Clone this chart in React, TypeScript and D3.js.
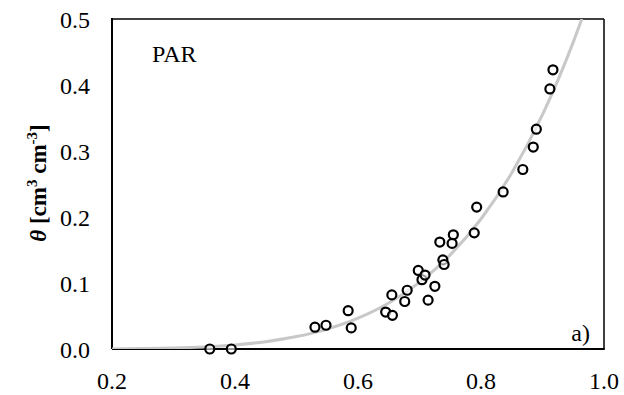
import React from 'react';
import * as d3 from 'd3';

// measured points: effective saturation vs water content
const satObs = [0.359, 0.394, 0.530, 0.548, 0.584, 0.589, 0.645, 0.656, 0.655, 0.676, 0.680, 0.698, 0.704, 0.709, 0.714, 0.725, 0.738, 0.740, 0.733, 0.755, 0.753, 0.789, 0.793, 0.836, 0.868, 0.885, 0.890, 0.912, 0.917];
const thetaObs = [0.000, 0.000, 0.033, 0.036, 0.058, 0.032, 0.056, 0.051, 0.082, 0.072, 0.089, 0.119, 0.105, 0.112, 0.074, 0.095, 0.135, 0.128, 0.162, 0.173, 0.160, 0.176, 0.215, 0.238, 0.272, 0.306, 0.333, 0.394, 0.423];

// fitted curve
const satFit = [0.20, 0.25, 0.30, 0.35, 0.40, 0.45, 0.50, 0.55, 0.60, 0.65, 0.70, 0.75, 0.80, 0.85, 0.90, 0.95, 0.964];
const thetaFit = [0.000, 0.0006, 0.0015, 0.0032, 0.0062, 0.0111, 0.0188, 0.0302, 0.0467, 0.0697, 0.101, 0.1426, 0.197, 0.2667, 0.355, 0.465, 0.5];

const xTicks = [0.2, 0.4, 0.6, 0.8, 1.0];
const yTicks = [0.0, 0.1, 0.2, 0.3, 0.4, 0.5];

const W = 624;
const H = 395;
const margin = { top: 19, right: 20, bottom: 46, left: 112 };
const font = '"Liberation Serif", "Times New Roman", serif';

export default function App() {
  const x = d3.scaleLinear().domain([0.2, 1.0]).range([margin.left, W - margin.right]);
  const y = d3.scaleLinear().domain([0, 0.5]).range([H - margin.bottom, margin.top]);

  const fit = satFit.map((s, i) => [s, thetaFit[i]] as [number, number]);
  const line = d3.line<[number, number]>()
    .x(d => x(d[0]))
    .y(d => y(d[1]))
    .curve(d3.curveMonotoneX);

  const x0 = x(0.2), x1 = x(1.0), y0 = y(0), y1 = y(0.5);

  return (
    <svg width={W} height={H} style={{ position: 'absolute', left: 0, top: 0, background: '#fff' }}>
      <defs>
        <clipPath id="plot">
          <rect x={x0} y={y1} width={x1 - x0} height={y0 - y1} />
        </clipPath>
      </defs>

      {/* frame */}
      <line x1={x0} x2={x1} y1={y1} y2={y1} stroke="#000" strokeWidth={1.5} />
      <line x1={x1} x2={x1} y1={y1} y2={y0} stroke="#000" strokeWidth={1.5} />
      <line x1={x0} x2={x0} y1={y1 - 1} y2={y0} stroke="#000" strokeWidth={2} />
      <line x1={x0} x2={x1 + 0.75} y1={y0} y2={y0} stroke="#000" strokeWidth={2} />

      {/* fitted curve */}
      <path d={line(fit) || ''} fill="none" stroke="#c8c8c8" strokeWidth={3} clipPath="url(#plot)" />

      {/* observations */}
      {satObs.map((s, i) => (
        <circle key={i} cx={x(s)} cy={y(thetaObs[i])} r={4.5} fill="#fff" fillOpacity={0.6} stroke="#000" strokeWidth={2.2} />
      ))}

      {/* tick labels */}
      {yTicks.map(t => (
        <text key={'y' + t} x={90} y={y(t) + 9} textAnchor="end" fontFamily={font} fontSize={24}>
          {t.toFixed(1)}
        </text>
      ))}
      {xTicks.map(t => (
        <text key={'x' + t} x={x(t)} y={389} textAnchor="middle" fontFamily={font} fontSize={24}>
          {t.toFixed(1)}
        </text>
      ))}

      <text x={152} y={62} fontFamily={font} fontSize={24}>PAR</text>
      <text x={590} y={341} textAnchor="end" fontFamily={font} fontSize={24}>a)</text>

      {/* y label */}
      <text transform="translate(46,183) rotate(-90)" textAnchor="middle" fontFamily={font} fontSize={23} fontWeight="bold">
        <tspan fontStyle="italic">θ</tspan>
        <tspan> [cm</tspan>
        <tspan fontSize={15} dy={-9}>3</tspan>
        <tspan dy={9}> cm</tspan>
        <tspan fontSize={15} dy={-9}>-3</tspan>
        <tspan dy={9}>]</tspan>
      </text>
    </svg>
  );
}
